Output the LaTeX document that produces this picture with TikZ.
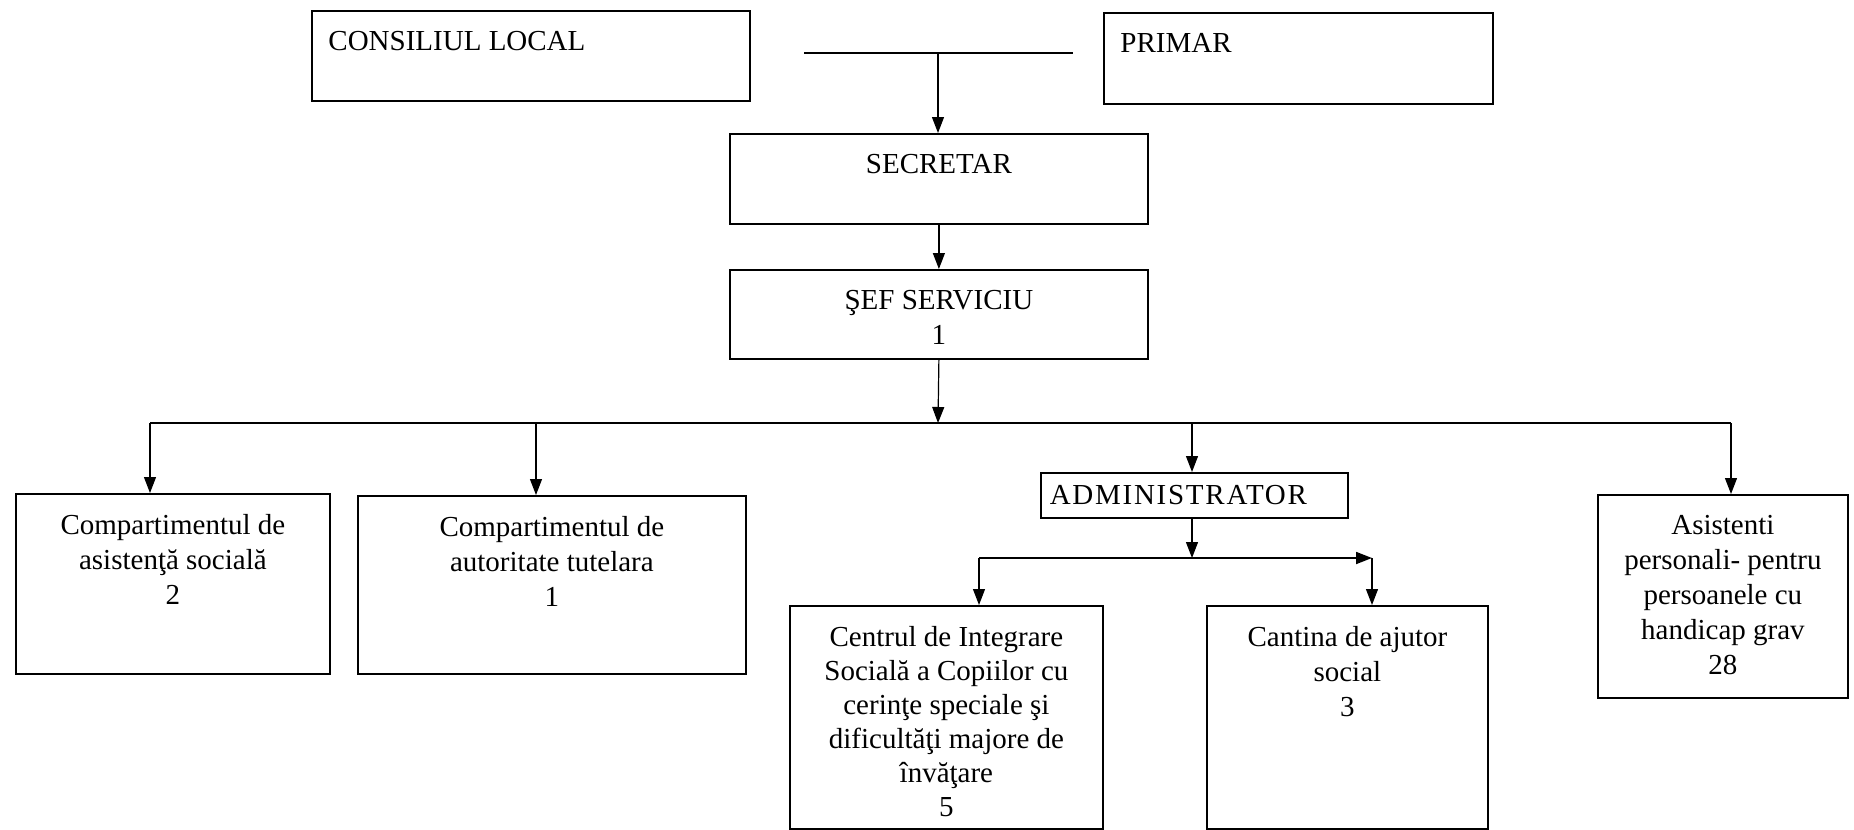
\documentclass[tikz,border=0pt]{standalone}
\usepackage{fontspec}
\setmainfont{Liberation Serif}
\usetikzlibrary{arrows.meta}

\begin{document}
\begin{tikzpicture}[x=0.5pt,y=-0.5pt,
        box/.style={draw,line width=0.9pt,anchor=north west,inner sep=0pt},
        txt/.style={align=center,font=\fontsize{14.5}{17.5}\selectfont},
        top/.style={txt,anchor=north,yshift=-7pt},
        corner/.style={txt,anchor=north west,xshift=5.2pt,yshift=-7pt},
        arr/.style={line width=0.6pt,-{Triangle[length=8pt,width=6pt]}}]
            \useasboundingbox (0,0) rectangle (1854,830);
            \node[box,minimum width=219pt,minimum height=45pt,label={[corner]north west:CONSILIUL LOCAL}] (cl) at (311,10) {};
            \node[box,minimum width=194.5pt,minimum height=45.5pt,label={[corner]north west:PRIMAR}] (pr) at (1103,12) {};
            \node[box,minimum width=209pt,minimum height=45pt,label={[top]north:SECRETAR}] (sec) at (729,133) {};
            \node[box,minimum width=209pt,minimum height=44.5pt,label={[top]north:ŞEF SERVICIU\\1}] (sef) at (729,269) {};
            \node[box,minimum width=157pt,minimum height=90pt,
                label={[top]north:Compartimentul de\\asistenţă socială\\2}] (cas) at (15,493) {};
            \node[box,minimum width=194pt,minimum height=89pt,
                label={[top]north:Compartimentul de\\autoritate tutelara\\1}] (cat) at (357,495) {};
            \node[box,font=\fontsize{14.5}{17.5}\selectfont,minimum width=153.5pt,minimum height=22.5pt] (adm) at (1040,472)
                {\addfontfeature{LetterSpace=6}ADMINISTRATOR\hspace*{16pt}};
            \node[box,minimum width=156.5pt,minimum height=111.5pt,
                label={[top,font=\fontsize{14.5}{17}\selectfont]north:Centrul de Integrare\\Socială a Copiilor cu\\cerinţe speciale şi\\dificultăţi majore de\\învăţare\\5}] (cis) at (789,605) {};
            \node[box,minimum width=140.5pt,minimum height=111.5pt,
                label={[top]north:Cantina de ajutor\\social\\3}] (can) at (1206,605) {};
            \node[box,minimum width=125pt,minimum height=101.5pt,
                label={[top]north:Asistenti\\personali- pentru\\persoanele cu\\handicap grav\\28}] (ap) at (1597,494) {};
            \coordinate (jl) at (804,53);
            \coordinate (jr) at (1073,53);
            \coordinate (j) at (938,53);
            \draw[line width=0.9pt] (jl) -- (jr);
            \draw[arr] (j) -- (j |- sec.north);
            \draw[arr] (sec.south) -- (sef.north);
            \coordinate (bus) at (938,423);
            \coordinate (b1) at (150,423);
            \coordinate (b2) at (536,423);
            \coordinate (b3) at (1192,423);
            \coordinate (b4) at (1731,423);
            \draw[arr] (sef.south) -- (bus);
            \draw[line width=0.6pt] (b1) -- (b4);
            \draw[arr] (b1) -- (b1 |- cas.north);
            \draw[arr] (b2) -- (b2 |- cat.north);
            \draw[arr] (b3) -- (b3 |- adm.north);
            \draw[arr] (b4) -- (b4 |- ap.north);
            \coordinate (s0) at (1192,558);
            \coordinate (s1) at (979,558);
            \coordinate (s2) at (1372,558);
            \draw[arr] (s0 |- adm.south) -- (s0);
            \draw[arr,line width=0.9pt] (s1) -- (s2);
            \draw[arr] (s1) -- (s1 |- cis.north);
            \draw[arr] (s2) -- (s2 |- can.north);
\end{tikzpicture}
\end{document}
